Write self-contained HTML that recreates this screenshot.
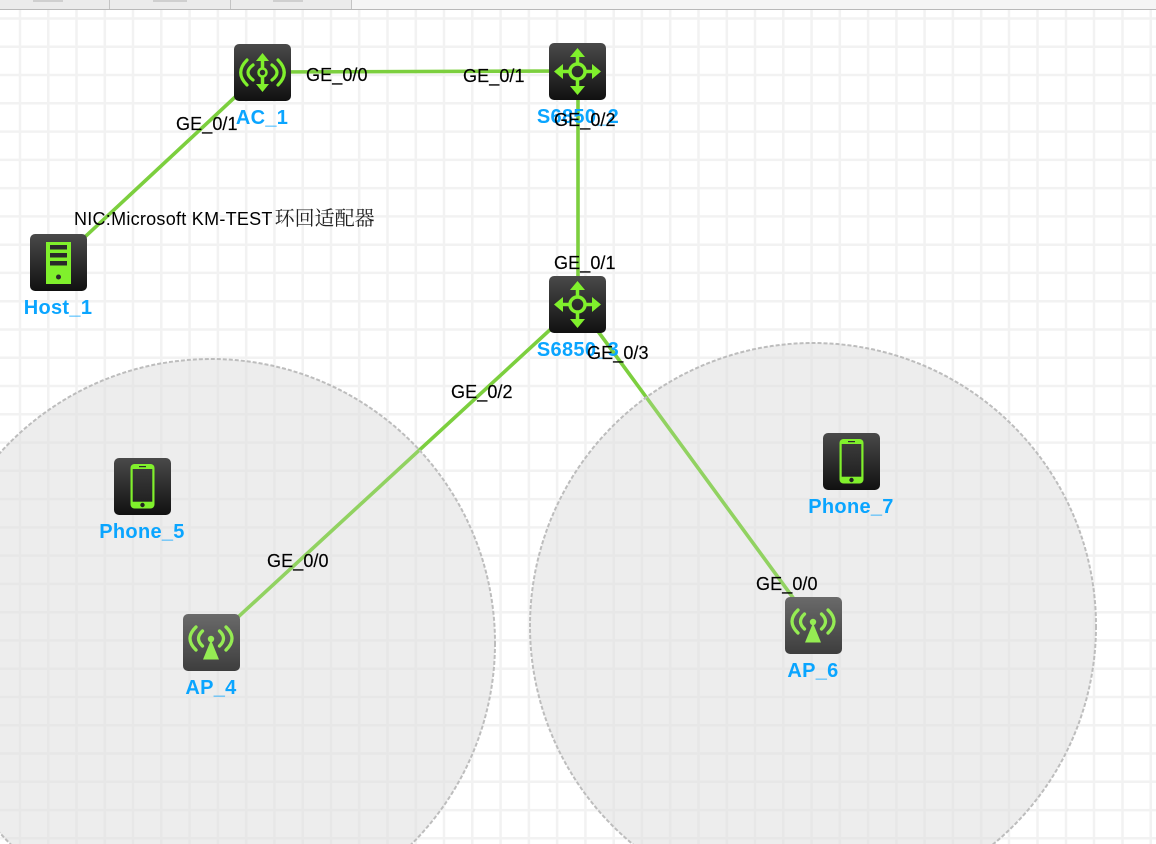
<!DOCTYPE html>
<html><head><meta charset="utf-8"><style>
html,body{margin:0;padding:0;background:#fff;width:1156px;height:844px;overflow:hidden}
svg{display:block}
.l{font:18px "Liberation Sans",sans-serif;fill:#000;letter-spacing:.1px;stroke:#000;stroke-width:.15px}
.n{font:bold 20px "Liberation Sans",sans-serif;fill:#0aa5ff;text-anchor:middle;letter-spacing:.3px}
</style></head><body>
<svg width="1156" height="844" viewBox="0 0 1156 844" xmlns="http://www.w3.org/2000/svg">
<defs>
<linearGradient id="d" x1="0" y1="0" x2="0" y2="1"><stop offset="0" stop-color="#4a4a4a"/><stop offset="1" stop-color="#111"/></linearGradient>
<linearGradient id="s" x1="0" y1="0" x2="0" y2="1"><stop offset="0" stop-color="#3a3a3a"/><stop offset="1" stop-color="#222"/></linearGradient>
<g id="box"><rect width="57" height="57" rx="5" fill="url(#d)"/></g>
<g id="ac"><use href="#box"/>
<g fill="none" stroke="#80f02c" stroke-linecap="round">
<circle cx="28.500" cy="28.500" r="4" stroke-width="2.500"/>
<path d="M28.500 24V14M28.500 33V43" stroke-width="3.500" stroke-linecap="butt"/>
<path d="M19 21Q9 28.500 19 36M13 16Q.5 28.500 13 41M38 21Q48 28.500 38 36M44 16Q56.500 28.500 44 41" stroke-width="3.200"/>
</g>
<path d="M28.500 9L35 17H22ZM28.500 48L35 40H22Z" fill="#80f02c"/></g>
<g id="sw"><use href="#box"/>
<g fill="none" stroke="#80f02c" stroke-width="3.500">
<circle cx="28.500" cy="28.500" r="7.500"/>
<path d="M28.500 20V11M28.500 37V46M20 28.500H11M37 28.500H46"/>
</g>
<path d="M28.500 5L36 14H21ZM28.500 52L36 43H21ZM5 28.500L14 21V36ZM52 28.500L43 21V36Z" fill="#80f02c"/></g>
<g id="host"><use href="#box"/>
<rect x="16" y="8" width="25" height="42" fill="#80f02c"/>
<rect x="20" y="11" width="17" height="4.500" fill="#2a2a2a"/>
<rect x="20" y="19" width="17" height="4.500" fill="#2a2a2a"/>
<rect x="20" y="27" width="17" height="4.500" fill="#2a2a2a"/>
<circle cx="28.500" cy="43" r="2.500" fill="#2a2a2a"/></g>
<g id="ph"><use href="#box"/>
<rect x="16.500" y="6" width="24" height="44.500" rx="4" fill="#80f02c"/>
<rect x="18.700" y="11" width="19.600" height="32.700" fill="url(#s)"/>
<rect x="25" y="8" width="7" height="1.200" fill="#2c2c2c"/>
<circle cx="28.500" cy="47" r="2.200" fill="#222"/></g>
<g id="ap"><rect width="57" height="57" rx="5" fill="url(#d)"/>
<g fill="none" stroke="#80f02c" stroke-width="3.300" stroke-linecap="round">
<path d="M19.500 17Q11.500 24.500 19.500 32M13 13Q1 24.500 13 36M36.500 17Q44.500 24.500 36.500 32M43 13Q55 24.500 43 36"/></g>
<circle cx="28" cy="25" r="3.200" fill="#80f02c"/>
<path d="M28 26L36 45.500H20Z" fill="#80f02c"/></g>
</defs>
<rect width="1156" height="844" fill="#fff"/>
<g stroke="#f2f2f2" stroke-width="2.500" id="grid">
<path d="M20 10V844M48.300 10V844M76.500 10V844M104.800 10V844M133 10V844M161.300 10V844M189.600 10V844M217.900 10V844M246.200 10V844M274.400 10V844M302.700 10V844M331 10V844M359.200 10V844M387.500 10V844M415.800 10V844M444 10V844M472.300 10V844M500.600 10V844M528.900 10V844M557.100 10V844M585.400 10V844M613.700 10V844M641.900 10V844M670.200 10V844M698.500 10V844M726.800 10V844M755 10V844M783.300 10V844M811.600 10V844M839.800 10V844M868.100 10V844M896.400 10V844M924.600 10V844M952.900 10V844M981.200 10V844M1009 10V844M1037.500 10V844M1066 10V844M1094 10V844M1122.500 10V844M1150.700 10V844"/>
<path d="M0 18.500H1156M0 46.800H1156M0 75H1156M0 103.300H1156M0 131.600H1156M0 159.900H1156M0 188.100H1156M0 216.400H1156M0 244.700H1156M0 272.900H1156M0 301.200H1156M0 329.500H1156M0 357.700H1156M0 386H1156M0 414.300H1156M0 442.600H1156M0 470.800H1156M0 499.100H1156M0 527.400H1156M0 555.600H1156M0 583.900H1156M0 612.200H1156M0 640.400H1156M0 668.700H1156M0 697H1156M0 725.300H1156M0 753.500H1156M0 781.800H1156M0 810.100H1156M0 838.300H1156"/>
</g>
<rect x="0" y="0" width="1156" height="9.500" fill="#f5f5f5"/>
<rect x="0" y="0" width="352" height="9.500" fill="#ebebeb"/>
<path d="M109.500 0V9M230.500 0V9M351.500 0V9" stroke="#c4c4c4" stroke-width="1"/>
<path d="M33 1H63M153 1H187M273 1H303" stroke="#cfcfcf" stroke-width="2"/>
<rect x="0" y="9" width="1156" height="1" fill="#b9b9b9"/>
<g fill="#e0e0e0" fill-opacity=".46">
<circle cx="211" cy="643" r="284"/>
<circle cx="813" cy="626" r="283"/>
</g>
<g stroke="#7ccf3e" stroke-width="3.600" fill="none">
<path d="M262 72L578 71M262 72L58 262M578 71V304M578 304L211 642M578 304L813 625"/>
</g>
<use href="#ap" x="183" y="614"/>
<use href="#ap" x="785" y="597"/>
<g fill="#e0e0e0" fill-opacity=".22" stroke="#bdbdbd" stroke-width="2" stroke-dasharray="4 2">
<circle cx="211" cy="643" r="284"/>
<circle cx="813" cy="626" r="283"/>
</g>
<use href="#ac" x="234" y="44"/>
<use href="#sw" x="549" y="43"/>
<use href="#sw" x="549" y="276"/>
<use href="#host" x="30" y="234"/>
<use href="#ph" x="114" y="458"/>
<use href="#ph" x="823" y="433"/>
<text class="n" x="262" y="124">AC_1</text>
<text class="n" x="578" y="123">S6850_2</text>
<text class="n" x="578" y="356">S6850_3</text>
<text class="n" x="58" y="314">Host_1</text>
<text class="n" x="142" y="538">Phone_5</text>
<text class="n" x="211" y="694">AP_4</text>
<text class="n" x="851" y="513">Phone_7</text>
<text class="n" x="813" y="677">AP_6</text>
<text class="l" x="306" y="81">GE_0/0</text>
<text class="l" x="463" y="82">GE_0/1</text>
<text class="l" x="176" y="130">GE_0/1</text>
<text class="l" x="554" y="126">GE_0/2</text>
<text class="l" x="554" y="269">GE_0/1</text>
<text class="l" x="587" y="359">GE_0/3</text>
<text class="l" x="451" y="398">GE_0/2</text>
<text class="l" x="267" y="567">GE_0/0</text>
<text class="l" x="756" y="590">GE_0/0</text>
<text x="74" y="225" style="font:18px 'Liberation Sans','Noto Serif CJK SC',serif;fill:#000;letter-spacing:.27px">NIC:Microsoft KM-TEST <tspan dx="-3" style="font-family:'Noto Serif CJK SC',serif;font-size:20px;letter-spacing:0;fill:#222">环回适配器</tspan></text>
</svg>
</body></html>
